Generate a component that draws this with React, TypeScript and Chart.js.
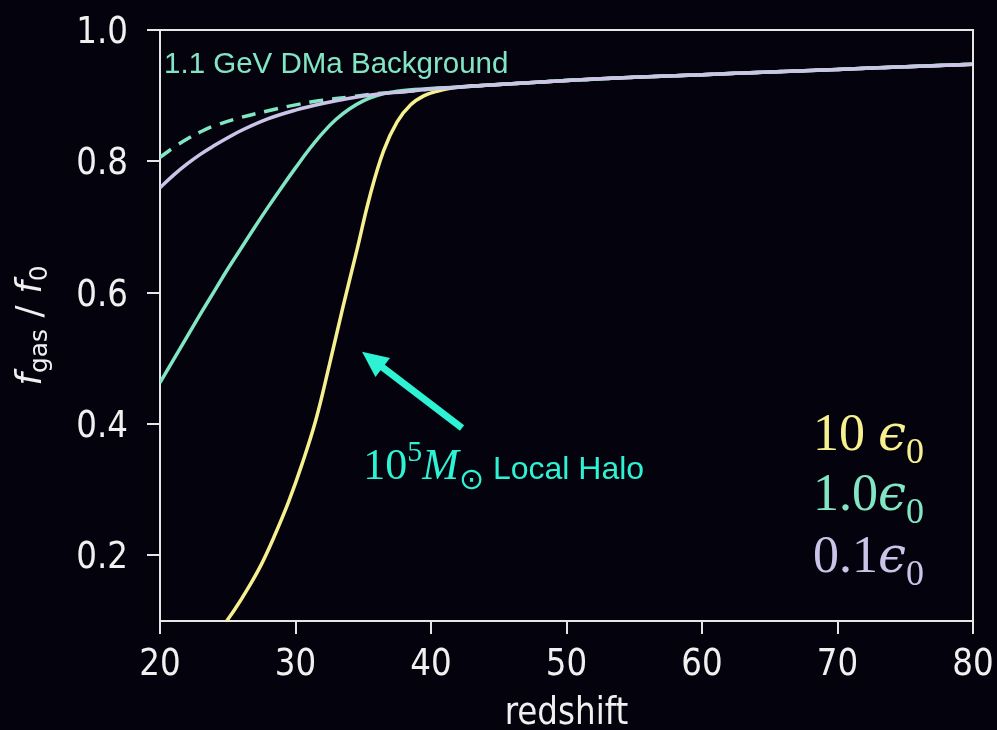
import React, { useEffect, useRef } from "react";
import { Chart, registerables } from "chart.js";

Chart.register(...registerables);

// ---------- colours ----------
const BG = "#04030d";
const AXIS = "#e6e6e6";
const TEXT = "#f0f0f0";
const YELLOW = "#f7f08f";
const TEAL = "#82e6c4";
const LAVENDER = "#cbc3e8";
const ARROW = "#2ef2d4";

// ---------- axes ----------
const X_MIN = 20;
const X_MAX = 80;
const Y_MIN = 0.1;
const Y_MAX = 1.0;
const X_TICKS = [20, 30, 40, 50, 60, 70, 80];
const Y_TICKS = [0.2, 0.4, 0.6, 0.8, 1.0];

// ---------- series (redshift, f_gas/f_0) ----------
const Z_HIGH = [24.5, 25.5, 26.5, 27.5, 28.5, 29.5, 30.5, 31.5, 32.5, 33.5, 34.5, 35.5, 36.5, 37.5, 38.5, 39.5, 40.5, 42, 45, 50, 55, 60, 65, 70, 75, 80];
const F_HIGH = [0.088, 0.117, 0.150, 0.187, 0.232, 0.282, 0.340, 0.406, 0.490, 0.578, 0.662, 0.748, 0.816, 0.860, 0.886, 0.900, 0.907, 0.913, 0.917, 0.923, 0.928, 0.932, 0.936, 0.940, 0.944, 0.948];

const Z_MID = [20, 21, 22, 23, 24, 25, 26, 27, 28, 29, 30, 31, 32, 33, 34, 35, 36, 37, 38, 40, 42, 45, 50, 55, 60, 65, 70, 75, 80];
const F_MID = [0.463, 0.498, 0.533, 0.568, 0.602, 0.636, 0.668, 0.700, 0.731, 0.761, 0.790, 0.818, 0.843, 0.864, 0.880, 0.892, 0.900, 0.905, 0.908, 0.911, 0.913, 0.917, 0.923, 0.928, 0.932, 0.936, 0.940, 0.944, 0.948];

const Z_LOW = [20, 21, 22, 23, 24, 25, 26, 28, 30, 32, 34, 36, 38, 40, 42, 45, 50, 55, 60, 65, 70, 75, 80];
const F_LOW = [0.760, 0.779, 0.796, 0.811, 0.824, 0.836, 0.847, 0.865, 0.878, 0.888, 0.896, 0.902, 0.906, 0.910, 0.913, 0.917, 0.923, 0.928, 0.932, 0.936, 0.940, 0.944, 0.948];

const Z_BKG = [20, 21, 22, 23, 24, 26, 28, 30, 32, 34, 36, 38, 40, 42, 45, 50, 55, 60, 65, 70, 75, 80];
const F_BKG = [0.806, 0.821, 0.834, 0.845, 0.854, 0.867, 0.877, 0.886, 0.893, 0.898, 0.903, 0.906, 0.910, 0.913, 0.917, 0.923, 0.928, 0.932, 0.936, 0.940, 0.944, 0.948];

// ---------- annotation anchors (data coordinates) ----------
const BKG_LABEL = { x: 20.3, y: 0.9345, text: "1.1 GeV DMa Background" };
const ARROW_TAIL = { x: 42.29, y: 0.394 };
const ARROW_HEAD = { x: 34.91, y: 0.51 };
const HALO_LABEL = { x: 35.0, y: 0.316 };
const LEGEND_X = 68.2;
const LEGEND_Y = [0.3604, 0.2691, 0.1747];
const LEGEND_NUM = ["10 ", "1.0", "0.1"];
const LEGEND_COL = [YELLOW, TEAL, LAVENDER];

type Run = { t: string; font: string; dy?: number };

function drawRuns(ctx: CanvasRenderingContext2D, x: number, y: number, runs: Run[], color: string) {
  ctx.fillStyle = color;
  ctx.textAlign = "left";
  ctx.textBaseline = "alphabetic";
  let cx = x;
  for (const r of runs) {
    ctx.font = r.font;
    ctx.fillText(r.t, cx, y + (r.dy || 0));
    cx += ctx.measureText(r.t).width;
  }
  return cx;
}

function runsWidth(ctx: CanvasRenderingContext2D, runs: Run[]) {
  let w = 0;
  for (const r of runs) {
    ctx.font = r.font;
    w += ctx.measureText(r.t).width;
  }
  return w;
}

function scaledText(ctx: CanvasRenderingContext2D, s: string, x: number, y: number, align: CanvasTextAlign, sx: number) {
  ctx.save();
  ctx.translate(x, y);
  ctx.scale(sx, 1);
  ctx.textAlign = align;
  ctx.textBaseline = "alphabetic";
  ctx.fillText(s, 0, 0);
  ctx.restore();
}

const TICK_FONT = "37px 'DejaVu Sans'";
const SX = 0.88;

const decor = {
  id: "decor",
  beforeDraw(chart: any) {
    const { ctx, width, height } = chart;
    ctx.save();
    ctx.fillStyle = BG;
    ctx.fillRect(0, 0, width, height);
    ctx.restore();
  },
  afterDraw(chart: any) {
    const { ctx, chartArea: a } = chart;
    const xs = chart.scales.x;
    const ys = chart.scales.y;
    ctx.save();

    // top & right spines
    ctx.strokeStyle = AXIS;
    ctx.lineWidth = 2;
    ctx.beginPath();
    ctx.moveTo(a.left, a.top);
    ctx.lineTo(a.right, a.top);
    ctx.lineTo(a.right, a.bottom);
    ctx.stroke();

    // tick labels
    ctx.fillStyle = TEXT;
    ctx.font = TICK_FONT;
    for (const v of X_TICKS) {
      scaledText(ctx, String(v), xs.getPixelForValue(v), a.bottom + 54, "center", SX);
    }
    for (const v of Y_TICKS) {
      scaledText(ctx, v.toFixed(1), a.left - 32, ys.getPixelForValue(v) + 13, "right", SX);
    }

    // x title
    scaledText(ctx, "redshift", (a.left + a.right) / 2, a.bottom + 103, "center", SX);

    // y title (rotated)
    const yRuns: Run[] = [
      { t: "f", font: "italic 36px 'DejaVu Sans'" },
      { t: "gas", font: "25px 'DejaVu Sans'", dy: 6 },
      { t: " / ", font: "36px 'DejaVu Sans'" },
      { t: "f", font: "italic 36px 'DejaVu Sans'" },
      { t: "0", font: "25px 'DejaVu Sans'", dy: 6 },
    ];
    ctx.save();
    ctx.translate(41, (a.top + a.bottom) / 2);
    ctx.rotate(-Math.PI / 2);
    const w = runsWidth(ctx, yRuns);
    drawRuns(ctx, -w / 2, 0, yRuns, TEXT);
    ctx.restore();

    // background label
    ctx.fillStyle = TEAL;
    ctx.font = "29.5px 'Liberation Sans'";
    ctx.textAlign = "left";
    ctx.fillText(BKG_LABEL.text, xs.getPixelForValue(BKG_LABEL.x), ys.getPixelForValue(BKG_LABEL.y));

    // arrow
    const tx = xs.getPixelForValue(ARROW_TAIL.x);
    const ty = ys.getPixelForValue(ARROW_TAIL.y);
    const hx = xs.getPixelForValue(ARROW_HEAD.x);
    const hy = ys.getPixelForValue(ARROW_HEAD.y);
    const ang = Math.atan2(hy - ty, hx - tx);
    const headLen = 26;
    const headHalf = 12;
    const bx = hx - headLen * Math.cos(ang);
    const by = hy - headLen * Math.sin(ang);
    ctx.strokeStyle = ARROW;
    ctx.fillStyle = ARROW;
    ctx.lineWidth = 7;
    ctx.lineCap = "butt";
    ctx.beginPath();
    ctx.moveTo(tx, ty);
    ctx.lineTo(bx + 2 * Math.cos(ang), by + 2 * Math.sin(ang));
    ctx.stroke();
    ctx.beginPath();
    ctx.moveTo(hx, hy);
    ctx.lineTo(bx + headHalf * Math.sin(ang), by - headHalf * Math.cos(ang));
    ctx.lineTo(bx - headHalf * Math.sin(ang), by + headHalf * Math.cos(ang));
    ctx.closePath();
    ctx.fill();

    // halo label
    const haloRuns: Run[] = [
      { t: "10", font: "44px 'Liberation Serif'" },
      { t: "5", font: "30px 'Liberation Serif'", dy: -18 },
      { t: "M", font: "italic 44px 'Liberation Serif'" },
      { t: "\u2299", font: "30px 'DejaVu Sans'", dy: 10 },
      { t: " Local Halo", font: "32px 'Liberation Sans'" },
    ];
    drawRuns(ctx, xs.getPixelForValue(HALO_LABEL.x), ys.getPixelForValue(HALO_LABEL.y), haloRuns, ARROW);

    // legend
    for (let i = 0; i < LEGEND_NUM.length; i++) {
      const runs: Run[] = [
        { t: LEGEND_NUM[i], font: "52px 'Liberation Serif'" },
        { t: "\u03F5", font: "italic 50px 'DejaVu Serif'" },
        { t: "0", font: "36px 'Liberation Serif'", dy: 13 },
      ];
      drawRuns(ctx, xs.getPixelForValue(LEGEND_X), ys.getPixelForValue(LEGEND_Y[i]), runs, LEGEND_COL[i]);
    }

    ctx.restore();
  },
};

function zip(xs: number[], ys: number[]) {
  return xs.map((x, i) => ({ x, y: ys[i] }));
}

export default function App() {
  const ref = useRef<HTMLCanvasElement | null>(null);

  useEffect(() => {
    if (!ref.current) return;
    const lineBase = {
      pointRadius: 0,
      borderWidth: 3.5,
      fill: false,
      tension: 0.4,
    };
    const chart = new Chart(ref.current, {
      type: "line",
      data: {
        datasets: [
          { ...lineBase, label: "0.1 eps0", data: zip(Z_LOW, F_LOW), borderColor: LAVENDER, order: 0 },
          { ...lineBase, label: "1.0 eps0", data: zip(Z_MID, F_MID), borderColor: TEAL, order: 1 },
          { ...lineBase, label: "10 eps0", data: zip(Z_HIGH, F_HIGH), borderColor: YELLOW, order: 2 },
          { ...lineBase, label: "1.1 GeV DMa Background", data: zip(Z_BKG, F_BKG), borderColor: TEAL, borderDash: [14, 9], order: 3 },
        ],
      },
      options: {
        responsive: false,
        devicePixelRatio: 1,
        animation: false,
        layout: { padding: { left: 0, top: 30, right: 24, bottom: 0 } },
        plugins: { legend: { display: false }, tooltip: { enabled: false } },
        scales: {
          x: {
            type: "linear",
            min: X_MIN,
            max: X_MAX,
            ticks: { display: false, stepSize: 10 },
            afterBuildTicks: (s: any) => { s.ticks = X_TICKS.map((v) => ({ value: v })); },
            afterFit: (s: any) => { s.height = 109; },
            grid: { drawOnChartArea: false, drawTicks: true, tickLength: 13, color: AXIS, lineWidth: 2 },
            border: { display: true, color: AXIS, width: 2 },
          },
          y: {
            type: "linear",
            min: Y_MIN,
            max: Y_MAX,
            ticks: { display: false },
            afterBuildTicks: (s: any) => { s.ticks = Y_TICKS.map((v) => ({ value: v })); },
            afterFit: (s: any) => { s.width = 160; },
            grid: { drawOnChartArea: false, drawTicks: true, tickLength: 13, color: AXIS, lineWidth: 2 },
            border: { display: true, color: AXIS, width: 2 },
          },
        },
      },
      plugins: [decor],
    } as any);
    return () => chart.destroy();
  }, []);

  return (
    <div style={{ position: "fixed", left: 0, top: 0, width: 997, height: 730, background: BG }}>
      <canvas ref={ref} width={997} height={730} style={{ display: "block", width: 997, height: 730 }} />
    </div>
  );
}
